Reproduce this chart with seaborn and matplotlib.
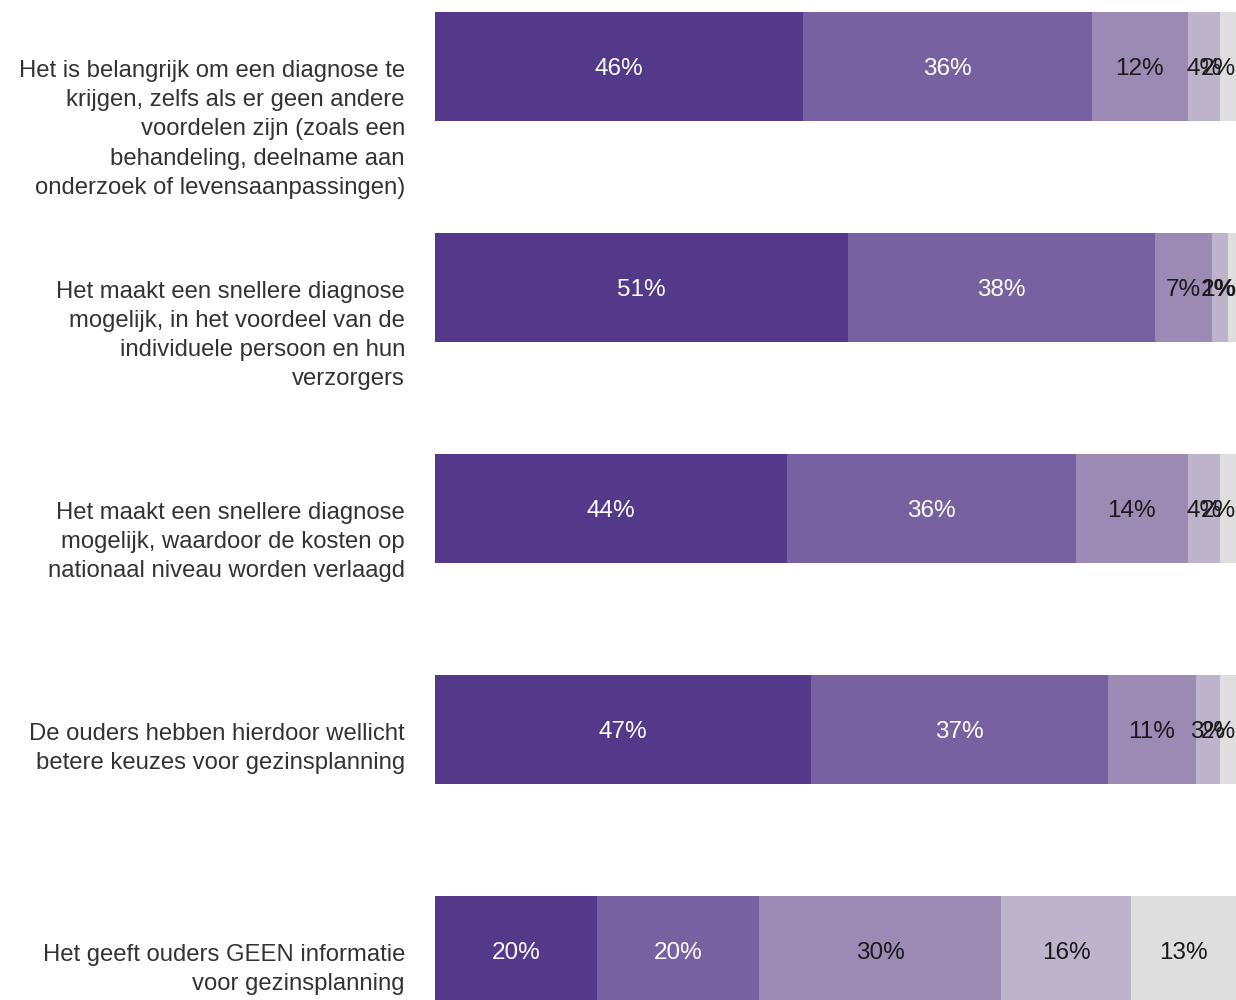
import matplotlib
matplotlib.use("Agg")
import matplotlib.pyplot as plt
import seaborn as sns
import numpy as np
import pandas as pd

# statements (left labels), top to bottom
categories = [
    "Het is belangrijk om een diagnose te\nkrijgen, zelfs als er geen andere\nvoordelen zijn (zoals een\nbehandeling, deelname aan\nonderzoek of levensaanpassingen)",
    "Het maakt een snellere diagnose\nmogelijk, in het voordeel van de\nindividuele persoon en hun\nverzorgers",
    "Het maakt een snellere diagnose\nmogelijk, waardoor de kosten op\nnationaal niveau worden verlaagd",
    "De ouders hebben hierdoor wellicht\nbetere keuzes voor gezinsplanning",
    "Het geeft ouders GEEN informatie\nvoor gezinsplanning",
]

# percentages per answer level (five segments, darkest first)
seg1 = [46, 51, 44, 47, 20]
seg2 = [36, 38, 36, 37, 20]
seg3 = [12, 7, 14, 11, 30]
seg4 = [4, 2, 4, 3, 16]
seg5 = [2, 1, 2, 2, 13]

colors = ["#54388a", "#7761a0", "#9b8ab4", "#bdb4cc", "#dedede"]
text_colors = ["white", "white", "#1a1a1a", "#1a1a1a", "#1a1a1a"]

sns.set_style("white")
plt.rcParams["font.family"] = ["Liberation Sans", "DejaVu Sans"]

vals = np.array([seg1, seg2, seg3, seg4, seg5], dtype=float)
vals_n = vals / vals.sum(axis=0) * 100  # fill each bar to full width
cum = np.cumsum(vals_n, axis=0)

fig = plt.figure(figsize=(12.36, 10), dpi=100)
ax = fig.add_axes([435 / 1236, 0, 801 / 1236, 1])

# layered bars: widest (total) first, then each shorter cumulative
for k in range(4, -1, -1):
    df = pd.DataFrame({"cat": categories, "val": cum[k]})
    sns.barplot(data=df, x="val", y="cat", orient="h", color=colors[k],
                saturation=1, width=0.49, linewidth=0, ax=ax)

for i in range(len(categories)):
    left = 0
    for k in range(5):
        # keep labels of tiny end segments inside the plot
        xc = min(left + vals_n[k, i] / 2, 97.8)
        ax.text(xc, i + 0.012, f"{int(vals[k, i])}%",
                ha="center", va="center", fontsize=17.5,
                color=text_colors[k])
        left += vals_n[k, i]
    ax.annotate(categories[i], xy=(0, i), xycoords=("axes fraction", "data"),
                xytext=(-21.6, 5), textcoords="offset points",
                ha="right", va="top", fontsize=17.2, color="#333333",
                linespacing=1.43, annotation_clip=False)

ax.set_xlim(0, 100)
ax.set_ylim(4.224, -0.301)
ax.set_xlabel("")
ax.set_ylabel("")
ax.set_xticks([])
ax.set_yticks([])
sns.despine(ax=ax, left=True, bottom=True)

fig.savefig("out.png", dpi=100)
